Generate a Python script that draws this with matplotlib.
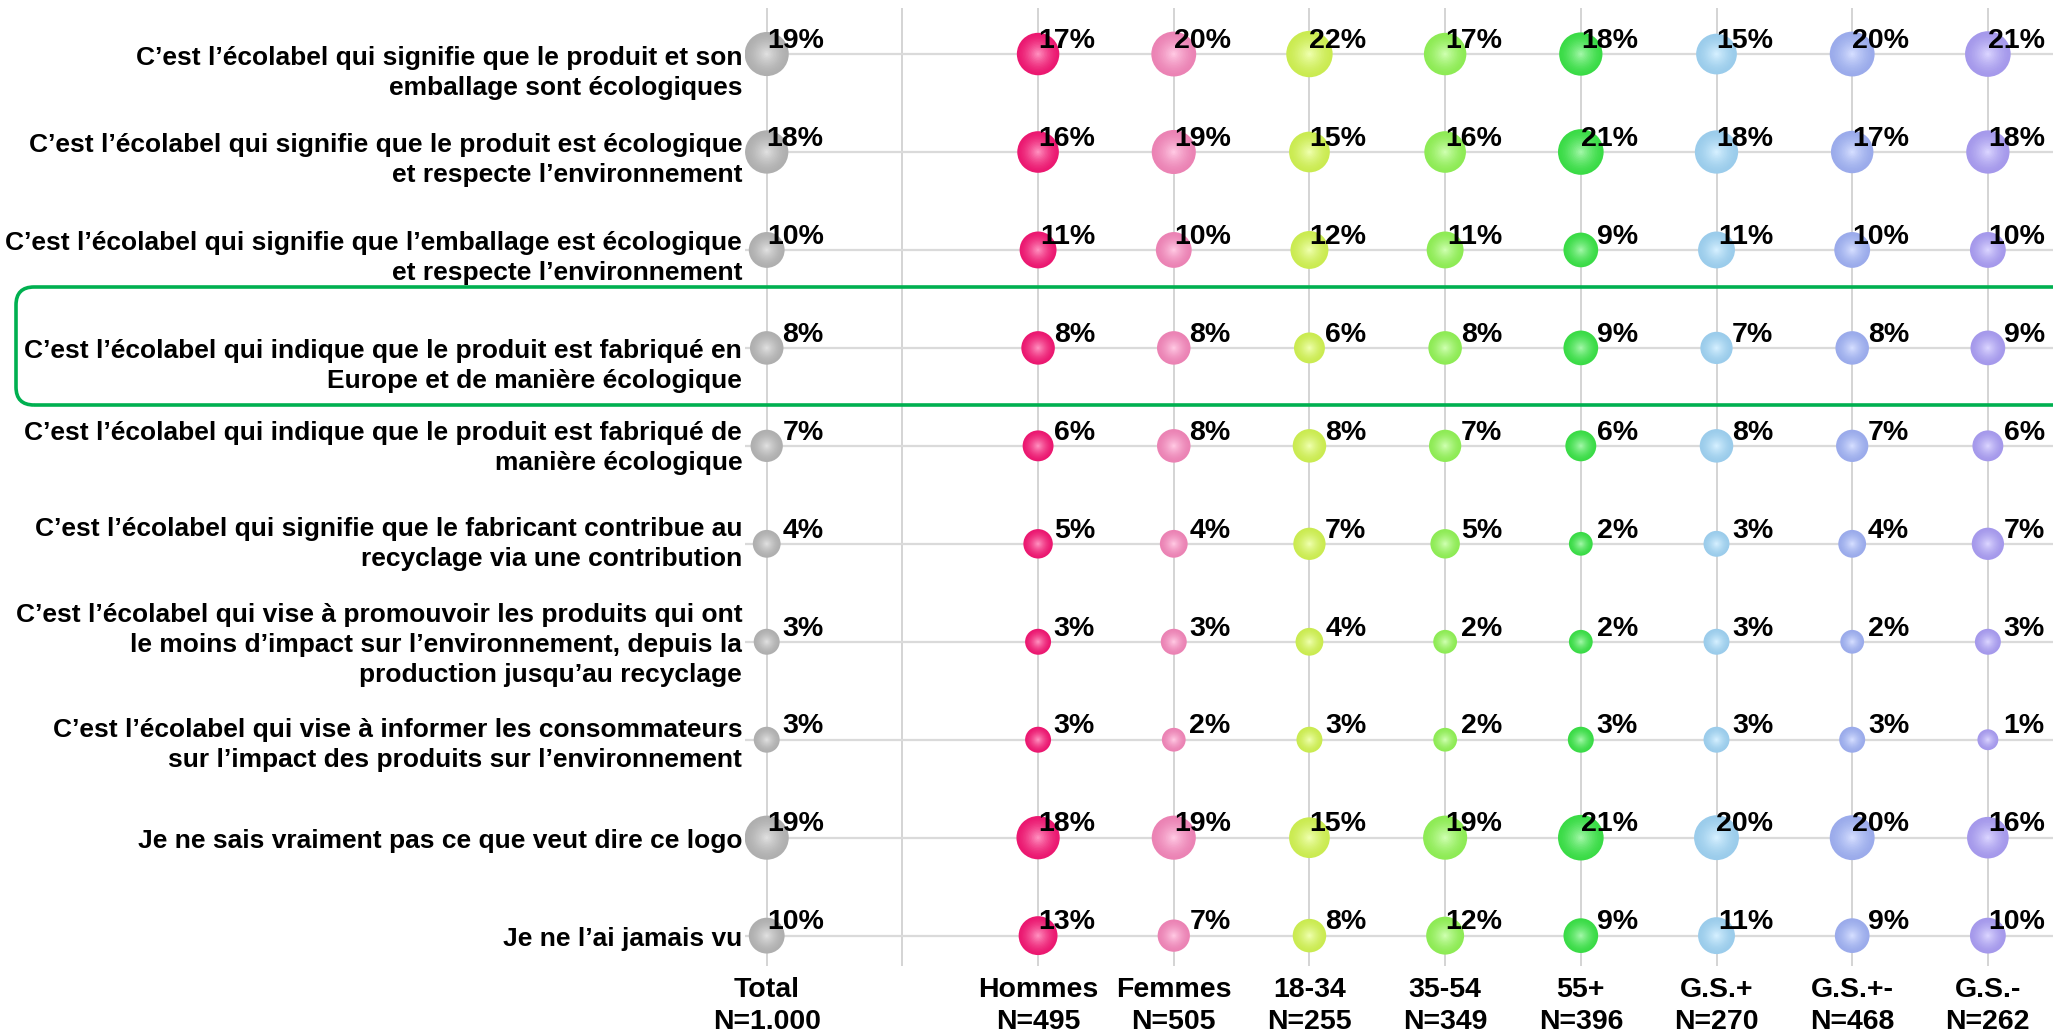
import numpy as np
import matplotlib
matplotlib.use('Agg')
import matplotlib.pyplot as plt
from matplotlib.colors import to_rgb
from matplotlib.patches import FancyBboxPatch
from matplotlib.transforms import IdentityTransform

# Row labels (top to bottom)
statements = [
    'C’est l’écolabel qui signifie que le produit et son\nemballage sont écologiques',
    'C’est l’écolabel qui signifie que le produit est écologique\net respecte l’environnement',
    'C’est l’écolabel qui signifie que l’emballage est écologique\net respecte l’environnement',
    'C’est l’écolabel qui indique que le produit est fabriqué en\nEurope et de manière écologique',
    'C’est l’écolabel qui indique que le produit est fabriqué de\nmanière écologique',
    'C’est l’écolabel qui signifie que le fabricant contribue au\nrecyclage via une contribution',
    'C’est l’écolabel qui vise à promouvoir les produits qui ont\nle moins d’impact sur l’environnement, depuis la\nproduction jusqu’au recyclage',
    'C’est l’écolabel qui vise à informer les consommateurs\nsur l’impact des produits sur l’environnement',
    'Je ne sais vraiment pas ce que veut dire ce logo',
    'Je ne l’ai jamais vu',
]

# Column groups
groups = ['Total', 'Hommes', 'Femmes', '18-34', '35-54', '55+', 'G.S.+', 'G.S.+-', 'G.S.-']
group_n = ['N=1.000', 'N=495', 'N=505', 'N=255', 'N=349', 'N=396', 'N=270', 'N=468', 'N=262']

# Percentages, one list per column
total = [19, 18, 10, 8, 7, 4, 3, 3, 19, 10]
hommes = [17, 16, 11, 8, 6, 5, 3, 3, 18, 13]
femmes = [20, 19, 10, 8, 8, 4, 3, 2, 19, 7]
age_18_34 = [22, 15, 12, 6, 8, 7, 4, 3, 15, 8]
age_35_54 = [17, 16, 11, 8, 7, 5, 2, 2, 19, 12]
age_55 = [18, 21, 9, 9, 6, 2, 2, 3, 21, 9]
gs_plus = [15, 18, 11, 7, 8, 3, 3, 3, 20, 11]
gs_mid = [20, 17, 10, 8, 7, 4, 2, 3, 20, 9]
gs_minus = [21, 18, 10, 9, 6, 7, 3, 1, 16, 10]

values = [total, hommes, femmes, age_18_34, age_35_54, age_55, gs_plus, gs_mid, gs_minus]
colors = ['#BEBEBE', '#FF1A7A', '#FF8EC4', '#DCFF58', '#9AFF5C', '#3FEE4C', '#A8DEFF', '#A8BAFF', '#B3A6FF']

# x position of each column (slot 1 is left empty as a separator)
xpos = [0, 2, 3, 4, 5, 6, 7, 8, 9]

plt.rcParams['font.family'] = ['Liberation Sans', 'DejaVu Sans']
plt.rcParams['font.weight'] = 'bold'

fig = plt.figure(figsize=(20.53, 10.36), dpi=100)
ax = fig.add_axes([745 / 2053, 1 - 966 / 1036, 1 - 745 / 2053, (966 - 8) / 1036])
ax.set_xlim(-0.16, 9.48)
ax.set_ylim(9.31, -0.47)

# Grid
for x in range(10):
    ax.axvline(x, color='#D4D4D4', linewidth=1.4, zorder=0)
for y in range(len(statements)):
    ax.axhline(y, color='#DADADA', linewidth=1.6, zorder=0)
for s in ax.spines.values():
    s.set_visible(False)
ax.set_xticks([])
ax.set_yticks([])


def bubble_size(v):
    # diameter in pixels -> scatter size in points^2
    d = (14 + 6.9 * np.sqrt(v)) * 0.72
    return d ** 2


rows = np.arange(len(statements))
for col, (x, vals, c) in enumerate(zip(xpos, values, colors)):
    base = np.array(to_rgb(c))
    dark = base * 0.92
    light = base + (1 - base) * 0.5
    sizes = np.array([bubble_size(v) for v in vals])
    xs = np.full(len(vals), x)
    # fake radial gradient with stacked circles
    nlayers = 14
    for k in range(nlayers):
        f = 1 - k / nlayers
        t = (k / (nlayers - 1)) ** 1.5
        colr = dark * (1 - t) + light * t
        ax.scatter(xs, rows, s=sizes * f ** 2, color=colr, linewidths=0, zorder=2 + k * 0.01)
    for y, v in zip(rows, vals):
        ax.annotate(f'{v}%', xy=(x, y), xytext=(41, 4.5), textcoords='offset points',
                    ha='right', va='baseline', fontsize=20.5, fontweight='bold', zorder=5)

# Row labels, some are nudged down like in the original
label_shift = [-13.5, -5.5, -6.0, -13.0, -1.3, -0.3, -2.2, -4.1, -2.2, -2.2]
for y, (txt, dy) in enumerate(zip(statements, label_shift)):
    ax.annotate(txt, xy=(0, y), xycoords=('axes fraction', 'data'), xytext=(-2, dy),
                textcoords='offset points', ha='right', va='center', fontsize=19,
                fontweight='bold', linespacing=1.32, annotation_clip=False)

# Column labels under the chart
for x, g, n in zip(xpos, groups, group_n):
    ax.annotate(f'{g}\n{n}', xy=(x, 0), xycoords=('data', 'axes fraction'), xytext=(0, -29),
                textcoords='offset points', ha='center', va='center', fontsize=20.5,
                fontweight='bold', linespacing=1.28, annotation_clip=False)

# Green highlight box around the "Europe" row (pixel coordinates)
box = FancyBboxPatch((16, 1036 - 405), 2080, 118, boxstyle='round,pad=0,rounding_size=18',
                     transform=IdentityTransform(), fill=False, edgecolor='#00B050', linewidth=2.6,
                     zorder=10)
fig.patches.append(box)

fig.savefig('out.png', dpi=100)
